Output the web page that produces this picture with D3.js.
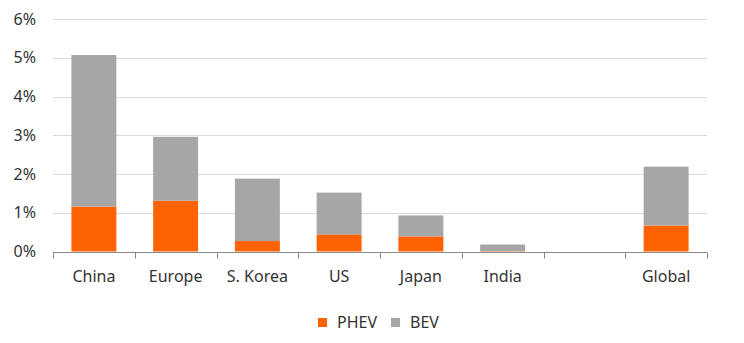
<!DOCTYPE html>
<html>
<head>
<meta charset="utf-8">
<script src="https://cdn.jsdelivr.net/npm/d3@7"></script>
<style>
  html, body { margin: 0; padding: 0; background: #fff; }
  svg { display: block; font-family: "Noto Sans", sans-serif; }
</style>
</head>
<body>
<svg id="chart" width="744" height="343"></svg>
<script>
const categories = ["China", "Europe", "S. Korea", "US", "Japan", "India", "", "Global"];
const phev = [1.16, 1.31, 0.27, 0.44, 0.39, 0.01, 0, 0.67];
const bev  = [3.91, 1.65, 1.61, 1.08, 0.54, 0.17, 0, 1.52];
const yTicks = [0, 1, 2, 3, 4, 5, 6];
const seriesNames = ["PHEV", "BEV"];
const colors = ["#FF6200", "#A6A6A6"];

const svg = d3.select("#chart");
const margin = { left: 53, right: 37, top: 19, bottom: 91 };
const W = 744, H = 343;

const x = d3.scaleBand().domain(categories.map((c, i) => i)).range([margin.left, W - margin.right]).paddingInner(0.45).paddingOuter(0.225);
const y = d3.scaleLinear().domain([0, 6]).range([H - margin.bottom - 0.5, margin.top]);

// gridlines
svg.append("g").selectAll("line").data(yTicks.filter(t => t > 0)).join("line")
  .attr("x1", margin.left).attr("x2", W - margin.right)
  .attr("y1", d => Math.round(y(d)) + 0.5).attr("y2", d => Math.round(y(d)) + 0.5)
  .attr("stroke", "#d9d9d9").attr("stroke-width", 1);

// y labels
svg.append("g").selectAll("text").data(yTicks).join("text")
  .attr("x", 36).attr("y", d => y(d)).attr("dy", "0.35em")
  .attr("text-anchor", "end").attr("font-size", 16).attr("fill", "#333")
  .text(d => d + "%");

// stacked bars
const rows = categories.map((c, i) => ({ i, PHEV: phev[i], BEV: bev[i] }));
const stack = d3.stack().keys(seriesNames)(rows);
svg.append("g").selectAll("g").data(stack).join("g")
  .attr("fill", (d, k) => colors[k])
  .selectAll("rect").data(d => d.filter(p => p[1] - p[0] > 0)).join("rect")
  .attr("x", d => x(d.data.i)).attr("width", x.bandwidth())
  .attr("y", d => y(d[1])).attr("height", d => y(d[0]) - y(d[1]));

// x axis
const xStep = x.step();
const x0 = margin.left, x1 = W - margin.right;
const base = Math.round(y(0)) + 0.5;
const ax = svg.append("g");
ax.append("line").attr("x1", x0).attr("x2", x1).attr("y1", base).attr("y2", base).attr("stroke", "#888").attr("stroke-width", 1);
const tickPos = d3.range(categories.length + 1).map(k => x0 + k * (x1 - x0) / categories.length);
ax.selectAll("line.tick").data(tickPos).join("line").attr("class", "tick")
  .attr("x1", d => Math.round(d) + 0.5).attr("x2", d => Math.round(d) + 0.5)
  .attr("y1", base).attr("y2", base + 6).attr("stroke", "#888");
ax.selectAll("text").data(categories).join("text")
  .attr("x", (d, i) => x(i) + x.bandwidth() / 2).attr("y", 282)
  .attr("text-anchor", "middle").attr("font-size", 16).attr("fill", "#333")
  .text(d => d);

// legend
const lg = svg.append("g");
const legendItems = [{ name: "PHEV", color: colors[0], x: 318 }, { name: "BEV", color: colors[1], x: 391 }];
legendItems.forEach(it => {
  lg.append("rect").attr("x", it.x).attr("y", 318).attr("width", 9).attr("height", 9).attr("fill", it.color);
  lg.append("text").attr("x", it.x + 19).attr("y", 328).attr("font-size", 16).attr("fill", "#333").text(it.name);
});
</script>
</body>
</html>
